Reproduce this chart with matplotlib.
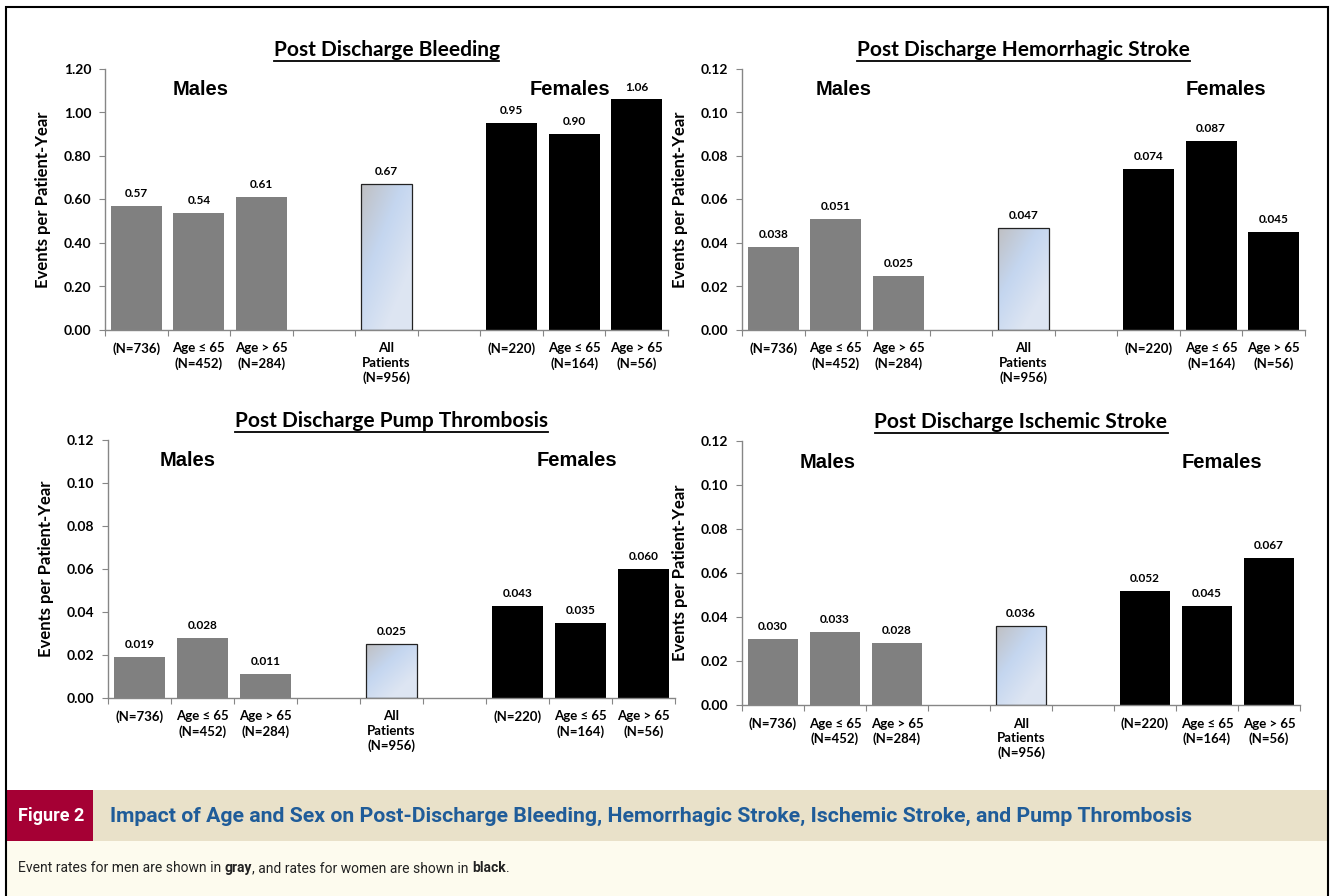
import numpy as np
import matplotlib
matplotlib.use("Agg")
import matplotlib.pyplot as plt
from matplotlib.patches import Rectangle

PX = 1 / 100

# ---- data ----
slots = [0, 1, 2, 4, 6, 7, 8]
categories = ["(N=736)", "Age \u2264 65\n(N=452)", "Age > 65\n(N=284)",
              "All\nPatients\n(N=956)",
              "(N=220)", "Age \u2264 65\n(N=164)", "Age > 65\n(N=56)"]
groups = ["m", "m", "m", "all", "f", "f", "f"]

bleeding = [0.57, 0.54, 0.61, 0.67, 0.95, 0.90, 1.06]
hemorrhagic = [0.038, 0.051, 0.025, 0.047, 0.074, 0.087, 0.045]
pump = [0.019, 0.028, 0.011, 0.025, 0.043, 0.035, 0.060]
ischemic = [0.030, 0.033, 0.028, 0.036, 0.052, 0.045, 0.067]

panels = [
    ("Post Discharge Bleeding", bleeding, 1.2, 0.2, "{:.2f}"),
    ("Post Discharge Hemorrhagic Stroke", hemorrhagic, 0.12, 0.02, "{:.3f}"),
    ("Post Discharge Pump Thrombosis", pump, 0.12, 0.02, "{:.3f}"),
    ("Post Discharge Ischemic Stroke", ischemic, 0.12, 0.02, "{:.3f}"),
]

# axes boxes in pixels: left, top, right, bottom
boxes = [(105, 69, 668, 330), (742, 69, 1305, 330),
         (108, 440, 675, 698), (742, 441, 1300, 705)]
# x position (axes fraction) of the "Males" / "Females" labels
males_x = [0.17, 0.18, 0.14, 0.154]
females_x = [0.826, 0.86, 0.827, 0.86]

W, H = 1333, 896
BODY = ["Lato", "DejaVu Sans"]
LABEL = ["Liberation Sans", "DejaVu Sans"]
CAP = ["Liberation Sans Narrow", "Roboto", "DejaVu Sans"]
SPINE = "#868686"

fig = plt.figure(figsize=(W * PX, H * PX), dpi=100, facecolor="white")

gcol = {"m": "#808080", "f": "black"}

# diagonal gradient for the "All Patients" bar
gx, gy = np.meshgrid(np.linspace(0, 1, 50), np.linspace(0, 1, 200))
t = np.clip((gx * 0.6 + gy * 0.7) / 1.0, 0, 1)
c0 = np.array([0.75, 0.75, 0.76])
c1 = np.array([0.77, 0.84, 0.94])
c2 = np.array([0.87, 0.90, 0.95])
grad = np.where(t[..., None] < 0.5,
                c0 + (c1 - c0) * (t[..., None] / 0.5),
                c1 + (c2 - c1) * ((t[..., None] - 0.5) / 0.5))

titles = []
for i, ((title, vals, ymax, step, fmt), (l, tp, r, b)) in enumerate(zip(panels, boxes)):
    ax = fig.add_axes([l / W, 1 - b / H, (r - l) / W, (b - tp) / H])
    for s, v, g in zip(slots, vals, groups):
        if g == "all":
            bar = ax.bar(s, v, width=0.8, color="none", edgecolor="#222222",
                         linewidth=0.9, zorder=3)[0]
            im = ax.imshow(grad, extent=(bar.get_x(), bar.get_x() + bar.get_width(),
                                         0, v),
                           origin="upper", aspect="auto", zorder=2)
            im.set_clip_path(bar)
        else:
            ax.bar(s, v, width=0.82, color=gcol[g], edgecolor="none", zorder=2)
        ax.annotate(fmt.format(v), (s, v), xytext=(0, 5), textcoords="offset points",
                    ha="center", va="bottom", fontsize=8.5, fontweight="bold",
                    family=BODY)
    ax.set_xlim(-0.5, 8.5)
    ax.set_ylim(0, ymax)
    ax.set_yticks(np.arange(0, ymax + step / 2, step))
    ax.yaxis.set_major_formatter(matplotlib.ticker.FormatStrFormatter("%.2f"))
    ax.set_xticks(slots)
    ax.set_xticklabels(categories, fontsize=9.5, fontweight="bold", family=BODY,
                       linespacing=1.25)
    ax.set_xticks(np.arange(-0.5, 9, 1), minor=True)
    ax.tick_params(axis="x", which="major", length=0, pad=9)
    ax.tick_params(axis="x", which="minor", length=4, color=SPINE, width=0.8)
    ax.tick_params(axis="y", length=4, color=SPINE, width=0.8, pad=6)
    for lab in ax.get_yticklabels():
        lab.set_fontsize(10)
        lab.set_fontweight("bold")
        lab.set_family(BODY)
    for sp in ["top", "right"]:
        ax.spines[sp].set_visible(False)
    for sp in ["left", "bottom"]:
        ax.spines[sp].set_color(SPINE)
        ax.spines[sp].set_linewidth(1.0)
    ax.set_ylabel("Events per Patient-Year", fontsize=12, fontweight="bold",
                  family=BODY, labelpad=9)
    titles.append(ax.text(0.5, 1 + 19 / (b - tp), title, transform=ax.transAxes,
                          ha="center", va="center", fontsize=15, fontweight="bold",
                          family=BODY))
    ax.text(males_x[i], 0.92, "Males", transform=ax.transAxes, ha="center",
            va="center", fontsize=14.5, fontweight="bold", family=LABEL)
    ax.text(females_x[i], 0.92, "Females", transform=ax.transAxes, ha="center",
            va="center", fontsize=14.5, fontweight="bold", family=LABEL)

# underline titles
fig.canvas.draw()
renderer = fig.canvas.get_renderer()
for ttl in titles:
    bb = ttl.get_window_extent(renderer)
    yl = bb.y0 - 1
    fig.add_artist(plt.Line2D([bb.x0 / W, bb.x1 / W], [yl / H, yl / H],
                              color="black", linewidth=1.3,
                              transform=fig.transFigure))

# caption band
fig.add_artist(Rectangle((7 / W, 1 - 841 / H), 86 / W, 51 / H, transform=fig.transFigure,
                         facecolor="#A50034", edgecolor="none"))
fig.add_artist(Rectangle((93 / W, 1 - 841 / H), (1328 - 93) / W, 51 / H,
                         transform=fig.transFigure, facecolor="#E9E1C9",
                         edgecolor="none"))
fig.add_artist(Rectangle((7 / W, 0), (1328 - 7) / W, 1 - 841 / H,
                         transform=fig.transFigure, facecolor="#FDFBEE",
                         edgecolor="none"))
# outer frame
fig.add_artist(Rectangle((6 / W, -0.01), (1328 - 6) / W, 1 + 0.01 - 7 / H,
                         transform=fig.transFigure, facecolor="none",
                         edgecolor="black", linewidth=1.5))

fig.text(18 / W, 1 - 816 / H, "Figure 2", color="white", fontsize=13,
         fontweight="bold", family=CAP, va="center", ha="left")
fig.text(110 / W, 1 - 816 / H,
         "Impact of Age and Sex on Post-Discharge Bleeding, Hemorrhagic Stroke, "
         "Ischemic Stroke, and Pump Thrombosis",
         color="#1F5C99", fontsize=15.3, fontweight="bold", family=CAP,
         va="center", ha="left")

# footnote with bold words
parts = [("Event rates for men are shown in ", "normal"), ("gray", "bold"),
         (", and rates for women are shown in ", "normal"), ("black", "bold"),
         (".", "normal")]
x = 18
for txt, wt in parts:
    tobj = fig.text(x / W, 1 - 868 / H, txt, color="#222222", fontsize=10,
                    fontweight=wt, family=CAP, va="center", ha="left")
    fig.canvas.draw()
    x += tobj.get_window_extent(fig.canvas.get_renderer()).width

fig.savefig("out.png", dpi=100, facecolor="white")
